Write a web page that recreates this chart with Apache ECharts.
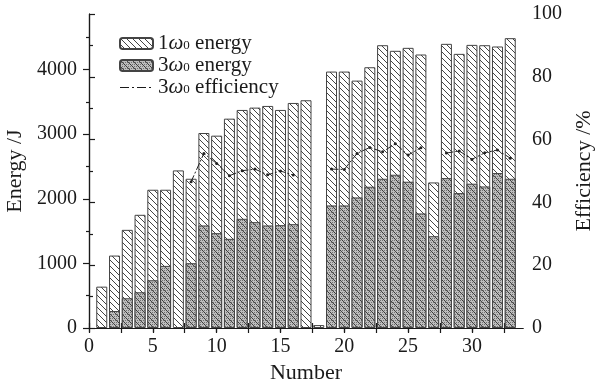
<!DOCTYPE html>
<html><head><meta charset="utf-8">
<script src="https://cdn.jsdelivr.net/npm/echarts@6/dist/echarts.min.js"></script>
<style>html,body{margin:0;padding:0;background:#fff}#c{width:599px;height:380px}</style>
</head><body><div id="c"></div>
<script>
const numbers = [1,2,3,4,5,6,7,8,9,10,11,12,13,14,15,16,17,18,19,20,21,22,23,24,25,26,27,28,29,30,31,32,33];
const energy1w = [640,1121,1519,1752,2140,2140,2439,2310,3018,2977,3240,3375,3411,3437,3375,3483,3525,45,3969,3969,3829,4036,4377,4290,4336,4233,2253,4398,4243,4382,4377,4357,4486];
const energy3w = [null,263,460,553,739,961,null,1003,1587,1468,1380,1690,1638,1587,1592,1607,null,null,1897,1897,2021,2186,2310,2372,2264,1773,1421,2320,2088,2233,2191,2398,2310];
const efficiency = [null,null,null,null,null,null,null,46.6,55.6,52.4,48.5,50.1,50.6,48.8,50.0,48.7,null,null,50.6,50.5,55.6,57.5,56.1,58.7,55.1,57.4,null,55.7,56.4,53.7,55.8,56.7,54.1];
const xTicks = [0,5,10,15,20,25,30];
const xMinorTicks = [0,2.5,5,7.5,10,12.5,15,17.5,20,22.5,25,27.5,30,32.5];
const yLeftTicks = [0,1000,2000,3000,4000];
const yLeftMinorTicks = [500,1500,2500,3500,4500];
const yRightTicks = [0,20,40,60,80,100];

function hatch(size, bg, draw){
  const c = document.createElement('canvas'); c.width = size; c.height = size;
  const g = c.getContext('2d'); g.fillStyle = bg; g.fillRect(0,0,size,size); draw(g,size); return c;
}
const pat1 = hatch(6,'#ffffff',(g,s)=>{
  g.strokeStyle='#444'; g.lineWidth=1;
  g.beginPath(); g.moveTo(-1,-1); g.lineTo(s+1,s+1); g.moveTo(-1,s-1); g.lineTo(1,s+1); g.moveTo(s-1,-1); g.lineTo(s+1,1); g.stroke();
});
const pat3 = hatch(6,'#bdbdbd',(g,s)=>{
  g.fillStyle='#737373';
  for(let y=0;y<s;y+=2) for(let x=(y/2)%2;x<s;x+=2) g.fillRect(x,y,1,1);
  g.strokeStyle='#2a2a2a'; g.lineWidth=0.8;
  g.beginPath(); g.moveTo(-1,-1); g.lineTo(s+1,s+1); g.moveTo(-1,s-1); g.lineTo(1,s+1); g.moveTo(s-1,-1); g.lineTo(s+1,1); g.stroke();
});

const F = 'Liberation Serif';
const txt = '#1a1a1a';
const rich = {
  n:{fontFamily:F,fontSize:21,color:txt,lineHeight:18},
  w:{fontFamily:F,fontSize:21,fontStyle:'italic',color:txt,lineHeight:18},
  s:{fontFamily:F,fontSize:13,color:txt,lineHeight:4,verticalAlign:'bottom'}
};
const names = ['1ω0 energy','3ω0 energy','3ω0 efficiency'];
function legendFmt(n){
  const m = n.match(/^(\d)ω0 (.*)$/);
  return '{n|'+m[1]+'}{w|ω}{s|0}{n| '+m[2]+'}';
}
const lineSt = {color:txt,width:1.2};
const lbl = {fontFamily:F,fontSize:20,color:txt,formatter:v=>String(v)};
const chart = echarts.init(document.getElementById('c'),null,{renderer:'canvas'});
chart.setOption({
  animation:false,
  backgroundColor:'#fff',
  grid:{left:89,right:76,top:14,bottom:52,containLabel:false,outerBoundsMode:'none'},
  legend:{
    orient:'vertical',left:119,top:33,padding:0,itemWidth:33,itemHeight:11,itemGap:1,
    data:[
      {name:names[0]},
      {name:names[1]},
      {name:names[2],itemStyle:{opacity:0},lineStyle:{type:[9,3,2,3],width:1.2,color:txt}}
    ],
    formatter:legendFmt, textStyle:{rich:rich}
  },
  xAxis:[
    {type:'value',position:'bottom',min:0,max:34,interval:5,
      axisLine:{show:true,lineStyle:lineSt},
      axisTick:{show:true,inside:false,length:4,customValues:xTicks,lineStyle:lineSt},
      axisLabel:Object.assign({},lbl,{margin:9,customValues:xTicks}),
      splitLine:{show:false},
      name:'Number',nameLocation:'middle',nameGap:25,nameTextStyle:{fontFamily:F,fontSize:22,color:txt}},
    {type:'value',position:'top',min:0,max:34,interval:5,
      axisLine:{show:true,lineStyle:lineSt},
      axisTick:{show:true,inside:true,length:5,customValues:xMinorTicks,lineStyle:lineSt},
      axisLabel:{show:false},splitLine:{show:false}},
    {type:'value',position:'bottom',min:0,max:34,interval:5,
      axisLine:{show:false},
      axisTick:{show:true,inside:true,length:5,customValues:xMinorTicks,lineStyle:lineSt},
      axisLabel:{show:false},splitLine:{show:false}}
  ],
  yAxis:[
    {type:'value',position:'left',min:0,max:4860,interval:1000,
      axisLine:{show:true,lineStyle:lineSt},
      axisTick:{show:true,inside:false,length:6,customValues:yLeftTicks,lineStyle:lineSt},
      axisLabel:Object.assign({},lbl,{customValues:yLeftTicks,margin:12}),
      splitLine:{show:false},
      name:'Energy /J',nameLocation:'middle',nameGap:60,nameRotate:90,nameTextStyle:{fontFamily:F,fontSize:22,color:txt}},
    {type:'value',position:'right',min:0,max:100,interval:20,
      axisLine:{show:true,lineStyle:lineSt},
      axisTick:{show:true,inside:false,length:6,lineStyle:lineSt},
      minorTick:{show:true,splitNumber:2,length:4,lineStyle:lineSt},
      axisLabel:Object.assign({},lbl,{customValues:yRightTicks,margin:9}),
      splitLine:{show:false},
      name:'Efficiency /%',nameLocation:'middle',nameGap:38,nameRotate:90,nameTextStyle:{fontFamily:F,fontSize:22,color:txt}},
    {type:'value',position:'left',min:0,max:4860,interval:1000,
      axisLine:{show:false},
      axisTick:{show:true,inside:false,length:3,customValues:yLeftMinorTicks,lineStyle:lineSt},
      axisLabel:{show:false},splitLine:{show:false}}
  ],
  series:[
    {name:names[0],type:'bar',xAxisIndex:0,yAxisIndex:0,barWidth:11,barGap:'-100%',
      data:numbers.map((x,i)=>[x,energy1w[i]]),
      itemStyle:{color:{image:pat1,repeat:'repeat'},borderColor:'#444',borderWidth:1}},
    {name:names[1],type:'bar',xAxisIndex:0,yAxisIndex:0,barWidth:11,barGap:'-100%',
      data:numbers.map((x,i)=>[x,energy3w[i]==null?'-':energy3w[i]]),
      itemStyle:{color:{image:pat3,repeat:'repeat'},borderColor:'#444',borderWidth:1}},
    {name:names[2],type:'line',xAxisIndex:0,yAxisIndex:1,connectNulls:false,
      data:numbers.map((x,i)=>[x,efficiency[i]==null?'-':efficiency[i]]),
      symbol:'circle',symbolSize:3,showSymbol:true,
      lineStyle:{color:'#222',width:1,type:[7,2,2,2]},itemStyle:{color:'#222'}}
  ]
});
</script></body></html>
